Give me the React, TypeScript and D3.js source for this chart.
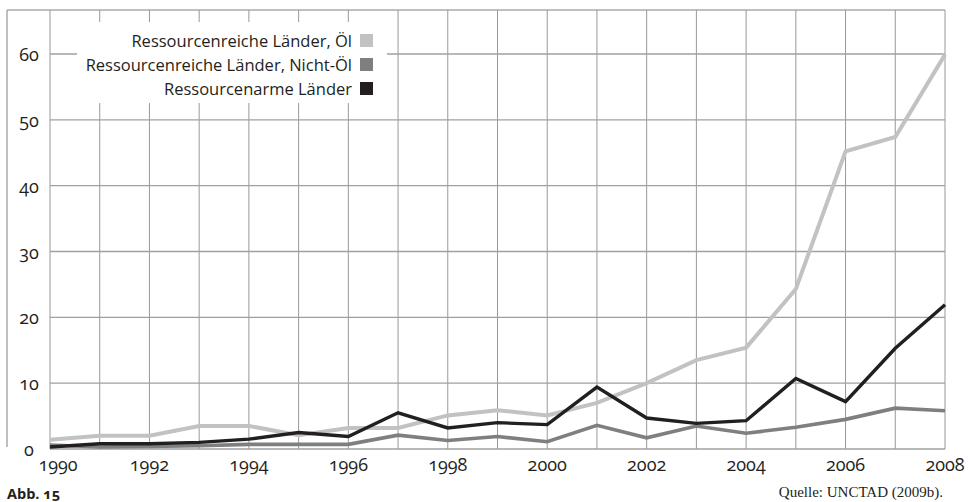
import React from "react";
import * as d3 from "d3";

const years = [1990,1991,1992,1993,1994,1995,1996,1997,1998,1999,2000,2001,2002,2003,2004,2005,2006,2007,2008];
const oil = [1.4,2.0,2.0,3.5,3.5,2.1,3.2,3.2,5.1,5.9,5.1,7.0,10.0,13.5,15.4,24.3,45.2,47.4,59.9];
const nonOil = [0.6,0.3,0.4,0.5,0.7,0.7,0.7,2.1,1.3,1.9,1.1,3.6,1.7,3.5,2.4,3.3,4.5,6.2,5.8];
const poor = [0.3,0.8,0.8,1.0,1.5,2.5,1.9,5.5,3.2,4.0,3.7,9.4,4.7,3.9,4.3,10.7,7.2,15.3,21.9];
const yTicks = [0,10,20,30,40,50,60];
const xTicks = [1990,1992,1994,1996,1998,2000,2002,2004,2006,2008];
const seriesNames = ["Ressourcenreiche Länder, Öl","Ressourcenreiche Länder, Nicht-Öl","Ressourcenarme Länder"];
const seriesColors = ["#c2c2c2","#7f7f7f","#231f20"];

const FONT = "'Open Sans', Lato, sans-serif";
const NUMFONT = "'Open Sans', Lato, sans-serif";

export default function App() {
  const x = d3.scaleLinear().domain([1990, 2008]).range([50, 945]);
  const y = d3.scaleLinear().domain([0, 60]).range([449, 54]);
  const line = d3.line<number>().x((_, i) => x(years[i])).y(d => y(d));
  const series = [oil, nonOil, poor];
  const widths = [4, 3.6, 3.4];
  const numStyle = { fontVariantNumeric: "oldstyle-nums", fontFeatureSettings: "'onum' 1" } as React.CSSProperties;
  return (
    <svg width={970} height={502} style={{ position: "absolute", left: 0, top: 0, background: "#fff" }}>
      <line x1={7} x2={945} y1={10} y2={10} stroke="#aaa" strokeWidth={1.5} />
      <line x1={7} x2={7} y1={10} y2={447} stroke="#aaa" strokeWidth={1.5} />
      {years.map(yr => (
        <line key={"v" + yr} x1={x(yr)} x2={x(yr)} y1={10} y2={y(0)} stroke="#999" strokeWidth={1} />
      ))}
      {yTicks.map(t => (
        <line key={"h" + t} x1={x(1990)} x2={x(2008)} y1={y(t)} y2={y(t)} stroke="#a0a0a0" strokeWidth={1.3} />
      ))}
      <rect x={77} y={22} width={310} height={81} fill="#fff" />
      {seriesNames.map((n, i) => (
        <g key={n}>
          <text x={352} y={40 + i * 24} textAnchor="end" dominantBaseline="central" fontFamily={FONT} fontSize={16.5} fill="#231f20">{n}</text>
          <rect x={360} y={34 + i * 24} width={13} height={13} fill={seriesColors[i]} />
        </g>
      ))}
      {series.map((s, i) => (
        <path key={"s" + i} d={line(s) || ""} fill="none" stroke={seriesColors[i]} strokeWidth={widths[i]} strokeLinejoin="miter" />
      ))}
      {yTicks.map(t => (
        <text key={"yl" + t} x={29} y={y(t)} textAnchor="middle" dominantBaseline="central" fontFamily={NUMFONT} fontSize={18} fill="#231f20" style={numStyle}>{t}</text>
      ))}
      {xTicks.map((t, i) => (
        <text key={"xl" + t} x={x(t) + (i === 0 ? 8 : 0)} y={471} textAnchor="middle" fontFamily={NUMFONT} fontSize={18} fill="#231f20" style={numStyle}>{t}</text>
      ))}
      <text x={7} y={499} fontFamily={FONT} fontWeight="bold" fontSize={14.5} fill="#231f20" style={numStyle}>Abb. 15</text>
      <text x={943} y={497} textAnchor="end" fontFamily="'Liberation Serif', serif" fontSize={15} fill="#231f20">Quelle: UNCTAD (2009b).</text>
    </svg>
  );
}
